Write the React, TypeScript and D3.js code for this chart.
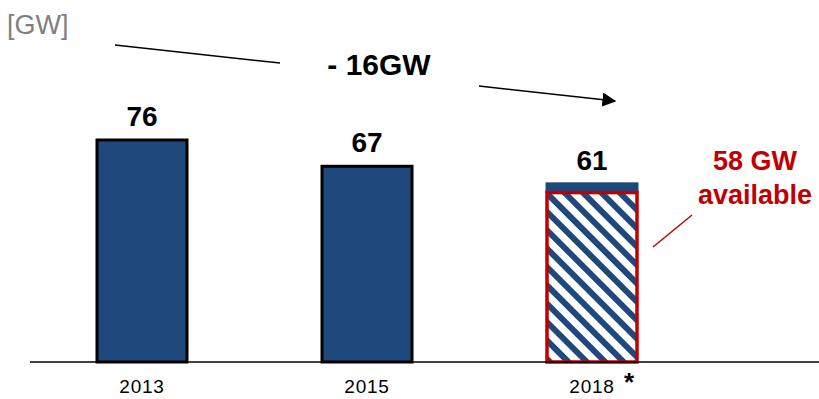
import React from "react";
import * as d3 from "d3";

const categories = ["2013", "2015", "2018"];
const values = [76, 67, 61];
const available = [null, null, 58];
const valueLabels = ["76", "67", "61"];
const unitLabel = "[GW]";
const deltaLabel = "- 16GW";
const availableLines = ["58 GW", "available"];

const W = 819;
const H = 399;
const BLUE = "#1F497D";
const RED = "#C00000";

export default function App() {
  const x = d3.scaleBand<string>().domain(categories).range([74.5, 659.5]).paddingInner(0.6).paddingOuter(0.1);
  const y = d3.scaleLinear().domain([0, 76]).range([362, 140]);
  const font = "'Liberation Sans', Arial, sans-serif";

  return (
    <svg width={W} height={H} style={{ position: "absolute", left: 0, top: 0 }} fontFamily={font}>
      <defs>
        <pattern id="hatch" patternUnits="userSpaceOnUse" width={13} height={13} patternTransform="rotate(-45)">
          <rect x={0} y={0} width={13} height={13} fill="#fff" />
          <rect x={0} y={0} width={6} height={13} fill={BLUE} />
        </pattern>
        <marker id="arrow" viewBox="0 0 10 10" refX={9} refY={5} markerWidth={14} markerHeight={14} markerUnits="userSpaceOnUse" orient="auto">
          <path d="M0,0 L10,5 L0,10 Z" fill="#000" />
        </marker>
      </defs>

      <text x={7} y={34} fontSize={27} fill="#7f7f7f">{unitLabel}</text>

      {/* delta arrow */}
      <line x1={115} y1={45} x2={280} y2={63} stroke="#000" strokeWidth={1.5} />
      <text x={379} y={75} fontSize={30} fontWeight="bold" textAnchor="middle">{deltaLabel}</text>
      <line x1={479} y1={86} x2={615} y2={101} stroke="#000" strokeWidth={1.5} markerEnd="url(#arrow)" />

      {categories.map((c, i) => {
        const bx = x(c)!;
        const bw = x.bandwidth();
        const v = values[i];
        const av = available[i];
        return (
          <g key={c}>
            {av == null ? (
              <rect x={bx} y={y(v)} width={bw} height={y(0) - y(v)} fill={BLUE} stroke="#000" strokeWidth={3} />
            ) : (
              <>
                <rect x={bx - 1.5} y={y(v) - 1.5} width={bw + 3} height={y(av) - y(v) + 2} fill={BLUE} />
                <rect x={bx} y={y(av)} width={bw} height={y(0) - y(av)} fill="url(#hatch)" stroke={RED} strokeWidth={3.5} />
              </>
            )}
            <text x={bx + bw / 2} y={y(v) - 14} fontSize={28} fontWeight="bold" textAnchor="middle">{valueLabels[i]}</text>
            <text x={bx + bw / 2} y={393} fontSize={19} textAnchor="middle" letterSpacing={0.8}>{c}</text>
          </g>
        );
      })}

      <text x={629} y={391} fontSize={26} fontWeight="bold" textAnchor="middle">*</text>

      <line x1={30} x2={W} y1={y(0)} y2={y(0)} stroke="#000" strokeWidth={1.5} />

      <line x1={653} y1={247} x2={692} y2={215} stroke={RED} strokeWidth={1.5} />
      <text x={755} y={170} fontSize={27} fontWeight="bold" fill={RED} textAnchor="middle">{availableLines[0]}</text>
      <text x={755} y={204} fontSize={27} fontWeight="bold" fill={RED} textAnchor="middle">{availableLines[1]}</text>
    </svg>
  );
}
